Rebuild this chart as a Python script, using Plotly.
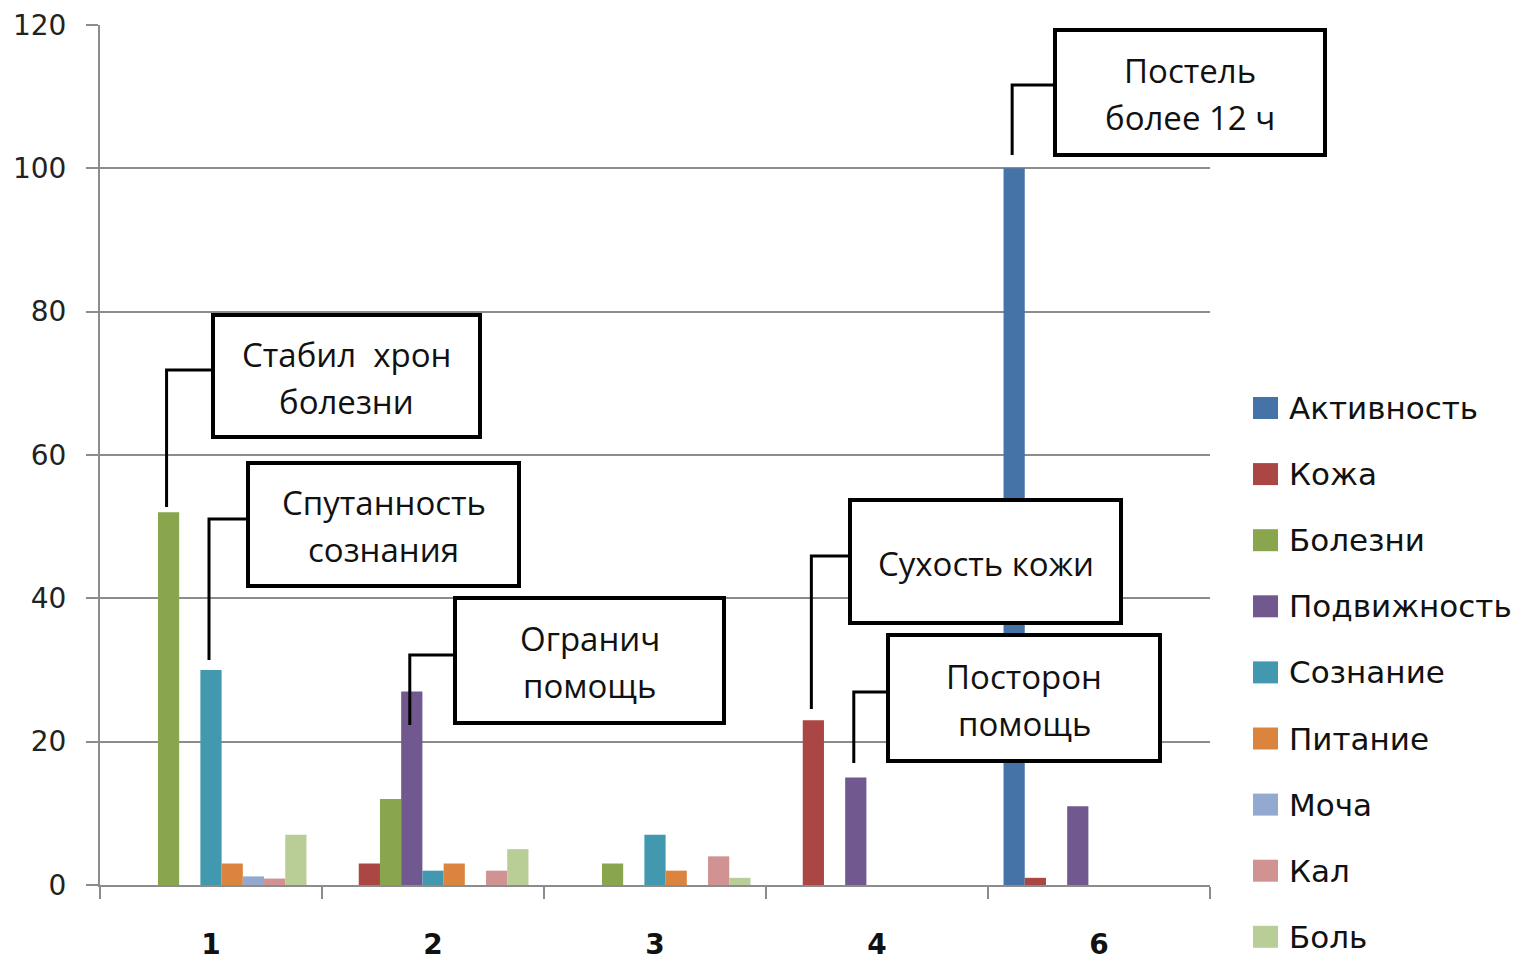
import plotly.graph_objects as go

# Categories on the x axis and the nine series
categories = ["1", "2", "3", "4", "6"]
series_names = ["Активность", "Кожа", "Болезни", "Подвижность", "Сознание",
                "Питание", "Моча", "Кал", "Боль"]
series_colors = ["#4572A7", "#AA4643", "#89A54E", "#71588F", "#4198AF",
                 "#DB843D", "#93A9CF", "#D19392", "#B9CD96"]

aktivnost = [0, 0, 0, 0, 100]
kozha = [0, 3, 0, 23, 1]
bolezni = [52, 12, 3, 0, 0]
podvizhnost = [0, 27, 0, 15, 11]
soznanie = [30, 2, 7, 0, 0]
pitanie = [3, 3, 2, 0, 0]
mocha = [1.2, 0, 0, 0, 0]
kal = [0.9, 2, 4, 0, 0]
bol = [7, 5, 1, 0, 0]

series_values = [aktivnost, kozha, bolezni, podvizhnost, soznanie,
                 pitanie, mocha, kal, bol]

# Figure geometry (pixels)
W, H = 1527, 964
ML, MR, MT, MB = 100, 317, 25, 79
PLOT_W = W - ML - MR
PLOT_H = H - MT - MB
BARGAP = 0.14
GRID = "#8c8c8c"


def fx(p):
    return (p - ML) / PLOT_W


def fy(p):
    return (H - MB - p) / PLOT_H


def bar_center_px(series_idx, cat_idx):
    n = len(series_names)
    width = (1 - BARGAP) / n
    offset = -(1 - BARGAP) / 2 + (series_idx + 0.5) * width
    return ML + (cat_idx + 0.5 + offset) * PLOT_W / len(categories)


fig = go.Figure()
x_pos = list(range(len(categories)))
for name, color, vals in zip(series_names, series_colors, series_values):
    fig.add_trace(go.Bar(x=x_pos, y=vals, name=name, marker_color=color,
                         marker_line_width=0, showlegend=False))

# Callouts: text lines, the bar they point to, box (left, top, right, bottom),
# elbow height of the leader and where its vertical stroke ends
callouts = [
    dict(lines=["Стабил  хрон", "болезни"], series=2, cat=0,
         box=(213, 315, 480, 437), elbow=370, end=507),
    dict(lines=["Спутанность", "сознания"], series=4, cat=0,
         box=(248, 463, 519, 586), elbow=519, end=660),
    dict(lines=["Огранич", "помощь"], series=3, cat=1,
         box=(455, 598, 724, 723), elbow=655, end=725),
    dict(lines=["Сухость кожи"], series=1, cat=3,
         box=(850, 500, 1121, 623), elbow=556, end=709),
    dict(lines=["Посторон", "помощь"], series=3, cat=3,
         box=(888, 635, 1160, 761), elbow=692, end=763),
    dict(lines=["Постель", "более 12 ч"], series=0, cat=4,
         box=(1055, 30, 1325, 155), elbow=85, end=155),
]

shapes = []
annotations = []
for c in callouts:
    x0, y0, x1, y1 = c["box"]
    bx = bar_center_px(c["series"], c["cat"]) - 2
    shapes.append(dict(type="path", xref="paper", yref="paper",
                       path=f"M{fx(bx)},{fy(c['end'])} L{fx(bx)},{fy(c['elbow'])} "
                            f"L{fx(x0)},{fy(c['elbow'])}",
                       line=dict(color="black", width=3), layer="above"))
    shapes.append(dict(type="rect", xref="paper", yref="paper",
                       x0=fx(x0), x1=fx(x1), y0=fy(y0), y1=fy(y1),
                       line=dict(color="black", width=4), fillcolor="white",
                       layer="above"))
    cx = (x0 + x1) / 2
    cy = (y0 + y1) / 2 + 1.5
    n = len(c["lines"])
    for i, t in enumerate(c["lines"]):
        ly = cy + (i - (n - 1) / 2) * 47
        annotations.append(dict(text=t, xref="paper", yref="paper",
                                x=fx(cx), y=fy(ly), xanchor="center",
                                yanchor="middle", showarrow=False,
                                font=dict(family="Open Sans", size=33,
                                          color="#111")))

# Legend drawn at the right
leg_top = 408
leg_step = 66.1
for i, (name, color) in enumerate(zip(series_names, series_colors)):
    cy = leg_top + i * leg_step
    shapes.append(dict(type="rect", xref="paper", yref="paper",
                       x0=fx(1253), x1=fx(1278), y0=fy(cy - 11), y1=fy(cy + 11),
                       line=dict(width=0), fillcolor=color))
    annotations.append(dict(text=name, xref="paper", yref="paper",
                            x=fx(1287), y=fy(cy), xanchor="left",
                            yanchor="middle", showarrow=False,
                            font=dict(family="DejaVu Sans", size=31,
                                      color="#111")))

fig.update_layout(
    width=W, height=H, autosize=False,
    margin=dict(l=ML, r=MR, t=MT, b=MB, pad=0, autoexpand=False),
    paper_bgcolor="white", plot_bgcolor="white",
    barmode="group", bargap=BARGAP, bargroupgap=0,
    showlegend=False,
    shapes=shapes, annotations=annotations,
    xaxis=dict(range=[-0.5, len(categories) - 0.5], tickmode="array",
               tickvals=x_pos, ticktext=categories, ticks="",
               showgrid=False, zeroline=False, automargin=False,
               showline=True, linecolor=GRID, linewidth=2,
               ticklabelstandoff=33,
               tickfont=dict(family="DejaVu Sans", size=28, color="#111",
                             weight="bold"),
               minor=dict(tickmode="linear", tick0=-0.5, dtick=1,
                          ticks="outside", ticklen=12, tickwidth=2,
                          tickcolor=GRID, showgrid=False)),
    yaxis=dict(range=[0, 120], tickmode="linear", tick0=0, dtick=20,
               showgrid=True, gridcolor=GRID, gridwidth=2,
               zeroline=False, showline=True, linecolor=GRID, linewidth=2,
               ticks="outside", ticklen=12, tickwidth=2, tickcolor=GRID,
               ticklabelstandoff=14, automargin=False,
               tickfont=dict(family="DejaVu Sans", size=28, color="#222")),
)

fig.write_html("out.html")
